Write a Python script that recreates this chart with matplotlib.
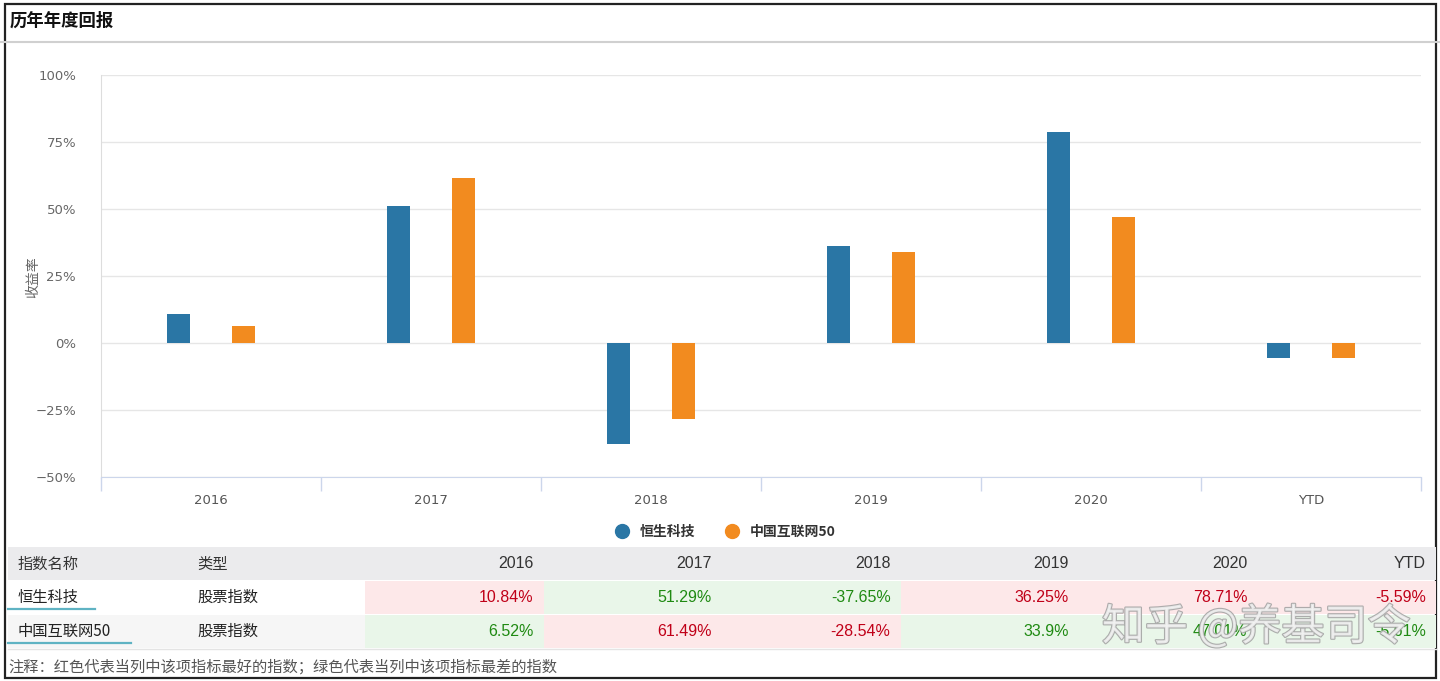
import matplotlib
matplotlib.use('Agg')
import matplotlib.pyplot as plt
from matplotlib.patches import Rectangle
from matplotlib.lines import Line2D
import matplotlib.patheffects as pe

plt.rcParams['font.family'] = ['Noto Sans CJK SC', 'DejaVu Sans']

# 数据
categories = ['2016', '2017', '2018', '2019', '2020', 'YTD']
names = ['恒生科技', '中国互联网50']
types = ['股票指数', '股票指数']
hstech = [10.84, 51.29, -37.65, 36.25, 78.71, -5.59]
china50 = [6.52, 61.49, -28.54, 33.9, 47.01, -5.61]
yticks = [-50, -25, 0, 25, 50, 75, 100]

BLUE = '#2a76a5'
ORANGE = '#f28b1f'
W, H = 1440, 681


def fx(x):
    return x / W


def fy(y):
    return 1 - y / H


fig = plt.figure(figsize=(14.4, 6.81), dpi=100)

# 外框和标题
fig.patches.append(Rectangle((fx(5), fy(678)), fx(1431), 674 / H, transform=fig.transFigure,
                             fill=False, edgecolor='#222222', linewidth=1.6))
fig.lines.append(Line2D([0, 1], [fy(42), fy(42)], transform=fig.transFigure, color='#d0d0d0', linewidth=1.5))
fig.text(fx(10), fy(21), '历年年度回报', fontsize=12.5, fontweight='bold', color='#111111', va='center')

# 柱状图
ax = fig.add_axes([fx(101), fy(477), fx(1320), (477 - 75) / H])
x = list(range(len(categories)))
bw = 0.105
off = 0.148
ax.bar([i - off for i in x], hstech, width=bw, color=BLUE, zorder=3)
ax.bar([i + off for i in x], china50, width=bw, color=ORANGE, zorder=3)

ax.set_xlim(-0.5, len(categories) - 0.5)
ax.set_ylim(-50, 100)
ax.set_yticks(yticks)
ax.set_yticklabels([f'{t}%' if t >= 0 else f'\u2212{-t}%' for t in yticks], fontsize=9.5, color='#666666',
                   family=['DejaVu Sans'])
ax.tick_params(axis='y', length=0, pad=18)
ax.grid(axis='y', color='#e6e6e6', linewidth=1, zorder=0)

ax.set_xticks([i - 0.5 for i in range(len(categories) + 1)])
ax.set_xticklabels([])
ax.tick_params(axis='x', which='major', length=10, color='#ccd6eb', width=1)
ax.set_xticks(x, minor=True)
ax.set_xticklabels(categories, minor=True, fontsize=9.5, color='#555555', family=['DejaVu Sans'])
ax.tick_params(axis='x', which='minor', length=0, pad=12)

for s in ['top', 'right']:
    ax.spines[s].set_visible(False)
ax.spines['left'].set_color('#dddddd')
ax.spines['left'].set_bounds(-50, 100)
ax.spines['bottom'].set_color('#ccd6eb')
fig.text(fx(33), fy(277), '收益率', fontsize=10, color='#666666', rotation=90, va='center', ha='center')

# 图例
handles = [Line2D([], [], marker='o', linestyle='none', markersize=10, color=BLUE),
           Line2D([], [], marker='o', linestyle='none', markersize=10, color=ORANGE)]
leg = fig.legend(handles, names, loc='center', bbox_to_anchor=(fx(722), fy(532)), ncol=2, frameon=False,
                 handletextpad=0.3, columnspacing=1.6, prop={'size': 10, 'weight': 'bold'})
for t in leg.get_texts():
    t.set_color('#333333')

# 表格
fig.patches.append(Rectangle((fx(8), fy(580)), fx(1428), 33 / H, transform=fig.transFigure,
                             facecolor='#ebebed', edgecolor='none'))
fig.text(fx(18), fy(564), '指数名称', fontsize=11, color='#333333', va='center')
fig.text(fx(197), fy(564), '类型', fontsize=11, color='#333333', va='center')

col_left = 365
col_w = (1436 - 365) / len(categories)
for j, c in enumerate(categories):
    fig.text(fx(col_left + (j + 1) * col_w - 10), fy(564), c, fontsize=11.5, color='#333333',
             va='center', ha='right', family=['Liberation Sans', 'DejaVu Sans'])

rows = [hstech, china50]
row_top = [581, 615]
row_h = 33
for r, vals in enumerate(rows):
    top = row_top[r]
    left_bg = '#ffffff' if r == 0 else '#f6f6f6'
    fig.patches.append(Rectangle((fx(8), fy(top + row_h)), fx(col_left - 8), row_h / H,
                                 transform=fig.transFigure, facecolor=left_bg, edgecolor='none'))
    fig.text(fx(18), fy(top + 16), names[r], fontsize=11, color='#222222', va='center')
    fig.text(fx(197), fy(top + 16), types[r], fontsize=11, color='#222222', va='center')
    ul_end = 95 if r == 0 else 131
    fig.lines.append(Line2D([fx(8), fx(ul_end)], [fy(top + 28), fy(top + 28)], transform=fig.transFigure,
                            color='#5fb3c3', linewidth=1.6))
    for j, v in enumerate(vals):
        col = [rw[j] for rw in rows]
        if v == max(col):
            bg, fg = '#fde8e9', '#c00018'
        else:
            bg, fg = '#e9f6e9', '#1f8a12'
        fig.patches.append(Rectangle((fx(col_left + j * col_w), fy(top + row_h)), fx(col_w), row_h / H,
                                     transform=fig.transFigure, facecolor=bg, edgecolor='none'))
        fig.text(fx(col_left + (j + 1) * col_w - 10), fy(top + 16), f'{v:g}%', fontsize=11.5, color=fg,
                 va='center', ha='right', family=['Liberation Sans', 'DejaVu Sans'])

fig.lines.append(Line2D([fx(8), fx(1436)], [fy(649), fy(649)], transform=fig.transFigure,
                        color='#e4e4e4', linewidth=1))

# 注释
fig.text(fx(8), fy(667), '注释：红色代表当列中该项指标最好的指数；绿色代表当列中该项指标最差的指数',
         fontsize=11, color='#555555', va='center')

# 水印
fig.text(fx(1256), fy(628), '知乎 @养基司令', fontsize=31, color='#f2f2f2', va='center', ha='center',
         alpha=0.85, path_effects=[pe.withStroke(linewidth=1.6, foreground='#a0a0a0')])

fig.savefig('out.png', dpi=100, facecolor='white')
